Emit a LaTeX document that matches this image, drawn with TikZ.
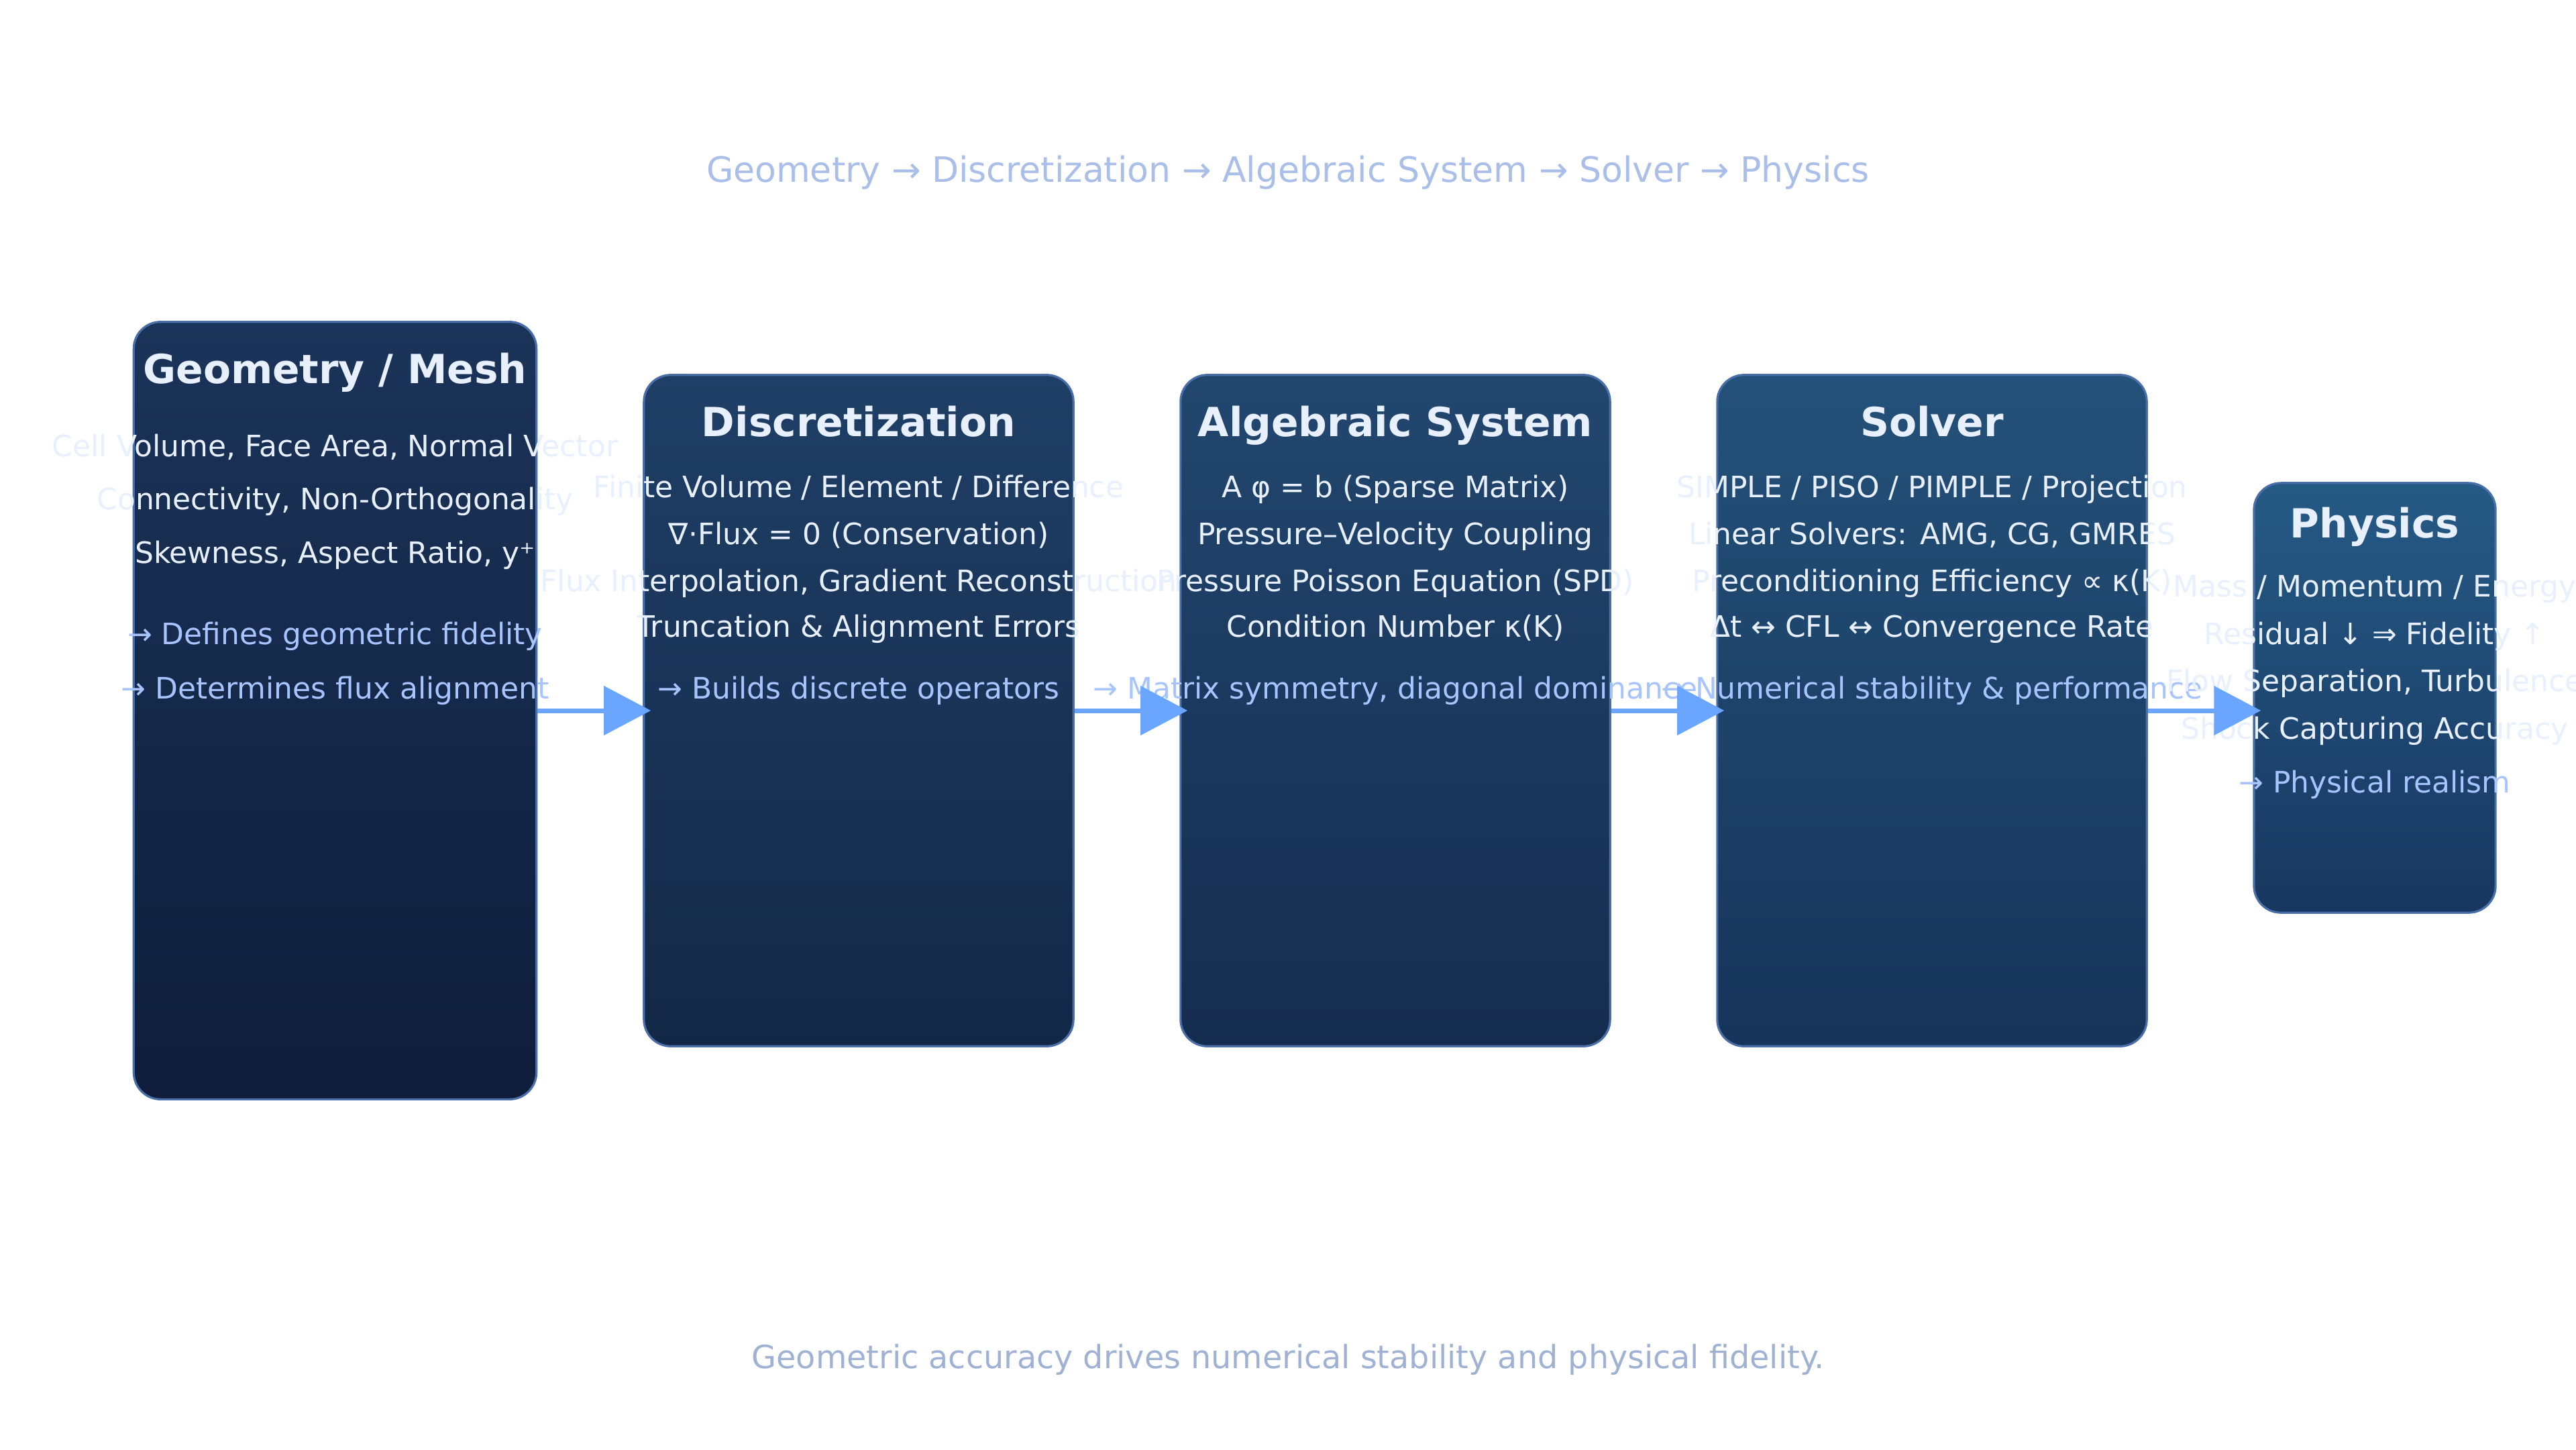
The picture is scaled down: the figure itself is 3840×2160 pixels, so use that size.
\documentclass[tikz,border=0pt]{standalone}
\usepackage{fontspec}
\setmainfont{DejaVu Sans}
\usetikzlibrary{arrows.meta}
\definecolor{stageborder}{HTML}{4A6FA8}
\definecolor{bodytext}{HTML}{E8F0FE}
\definecolor{notetext}{HTML}{A8C4FF}
\definecolor{flowblue}{HTML}{6AA6FF}
\definecolor{headtext}{HTML}{A9BEE8}
\definecolor{foottext}{HTML}{A0B2D4}
\definecolor{geomtop}{HTML}{1B3459}
\definecolor{geombot}{HTML}{0F1D3B}
\definecolor{disctop}{HTML}{1F3F66}
\definecolor{discbot}{HTML}{132847}
\definecolor{algtop}{HTML}{22476F}
\definecolor{algbot}{HTML}{152C4F}
\definecolor{soltop}{HTML}{245179}
\definecolor{solbot}{HTML}{17345A}
\definecolor{phystop}{HTML}{255A85}
\definecolor{physbot}{HTML}{183760}
\tikzset{stage/.style={draw=stageborder,line width=0.9pt,rounded corners=0.4cm,inner sep=0pt}}
\tikzset{stagetitle/.style={text=bodytext,font=\bfseries\fontsize{17}{20}\selectfont,anchor=base,inner sep=0pt}}
\tikzset{stageline/.style={text=bodytext,font=\fontsize{12.5}{15}\selectfont,anchor=base,inner sep=0pt}}
\tikzset{stagenote/.style={stageline,text=notetext}}
\tikzset{flow/.style={draw=flowblue,line width=2pt,-{Triangle[length=0.7cm,width=0.72cm]}}}

\begin{document}
\begin{tikzpicture}[x=0.01cm,y=-0.01cm]
\useasboundingbox[fill=white] (0,0) rectangle (3840,2160);

% Header line
\node[text=headtext,font=\fontsize{14.8}{18}\selectfont,anchor=base,inner sep=0pt] at (1920,271) (head)
  {Geometry → Discretization → Algebraic System → Solver → Physics};

% Geometry / Mesh stage
\node[stage,top color=geomtop,bottom color=geombot,minimum width=6cm,minimum height=11.58cm] at (499.5,1059) (geom) {};
\node[stagetitle] at (499.5,571) (geom-t) {Geometry / Mesh};
\node[stageline] at (499.5,680) (geom-1) {Cell Volume, Face Area, Normal Vector};
\node[stageline] at (499.5,759) (geom-2) {Connectivity, Non-Orthogonality};
\node[stageline] at (499.5,839) (geom-3) {Skewness, Aspect Ratio, y⁺};
\node[stagenote] at (499.5,960) (geom-4) {→ Defines geometric fidelity};
\node[stagenote] at (499.5,1041) (geom-5) {→ Determines flux alignment};

% Discretization stage
\node[stage,top color=disctop,bottom color=discbot,minimum width=6.4cm,minimum height=10cm] at (1280,1059) (disc) {};
\node[stagetitle] at (1280,650) (disc-t) {Discretization};
\node[stageline] at (1280,741) (disc-1) {Finite Volume / Element / Difference};
\node[stageline] at (1280,811) (disc-2) {∇·Flux = 0 (Conservation)};
\node[stageline] at (1280,881) (disc-3) {Flux Interpolation, Gradient Reconstruction};
\node[stageline] at (1280,949) (disc-4) {Truncation \& Alignment Errors};
\node[stagenote] at (1280,1041) (disc-5) {→ Builds discrete operators};

% Algebraic System stage
\node[stage,top color=algtop,bottom color=algbot,minimum width=6.4cm,minimum height=10cm] at (2080,1059) (alg) {};
\node[stagetitle] at (2080,650) (alg-t) {Algebraic System};
\node[stageline] at (2080,741) (alg-1) {A φ = b (Sparse Matrix)};
\node[stageline] at (2080,811) (alg-2) {Pressure–Velocity Coupling};
\node[stageline] at (2080,881) (alg-3) {Pressure Poisson Equation (SPD)};
\node[stageline] at (2080,949) (alg-4) {Condition Number κ(K)};
\node[stagenote] at (2080,1041) (alg-5) {→ Matrix symmetry, diagonal dominance};

% Solver stage
\node[stage,top color=soltop,bottom color=solbot,minimum width=6.4cm,minimum height=10cm] at (2880,1059) (solver) {};
\node[stagetitle] at (2880,650) (solver-t) {Solver};
\node[stageline] at (2880,741) (solver-1) {SIMPLE / PISO / PIMPLE / Projection};
\node[stageline] at (2880,811) (solver-2) {Linear Solvers: AMG, CG, GMRES};
\node[stageline] at (2880,881) (solver-3) {Preconditioning Efficiency ∝ κ(K)};
\node[stageline] at (2880,949) (solver-4) {Δt ↔ CFL ↔ Convergence Rate};
\node[stagenote] at (2880,1041) (solver-5) {→ Numerical stability \& performance};

% Physics stage
\node[stage,top color=phystop,bottom color=physbot,minimum width=3.6cm,minimum height=6.4cm] at (3540,1040) (phys) {};
\node[stagetitle] at (3540,801) (phys-t) {Physics};
\node[stageline] at (3540,889) (phys-1) {Mass / Momentum / Energy};
\node[stageline] at (3540,960) (phys-2) {Residual ↓ ⇒ Fidelity ↑};
\node[stageline] at (3540,1030) (phys-3) {Flow Separation, Turbulence};
\node[stageline] at (3540,1101) (phys-4) {Shock Capturing Accuracy};
\node[stagenote] at (3540,1181) (phys-5) {→ Physical realism};

% Arrows between the stages
\draw[flow] (geom.east) -- ([xshift=0.12cm]disc.west);
\draw[flow] (disc.east) -- ([xshift=0.12cm]alg.west);
\draw[flow] (alg.east) -- ([xshift=0.12cm]solver.west);
\draw[flow] (solver.east) -- ([xshift=0.12cm]solver.east -| phys.west);

% Footer line
\node[text=foottext,font=\fontsize{13.55}{16}\selectfont,anchor=base,inner sep=0pt] at (1920,2039) (foot)
  {Geometric accuracy drives numerical stability and physical fidelity.};
\end{tikzpicture}
\end{document}
